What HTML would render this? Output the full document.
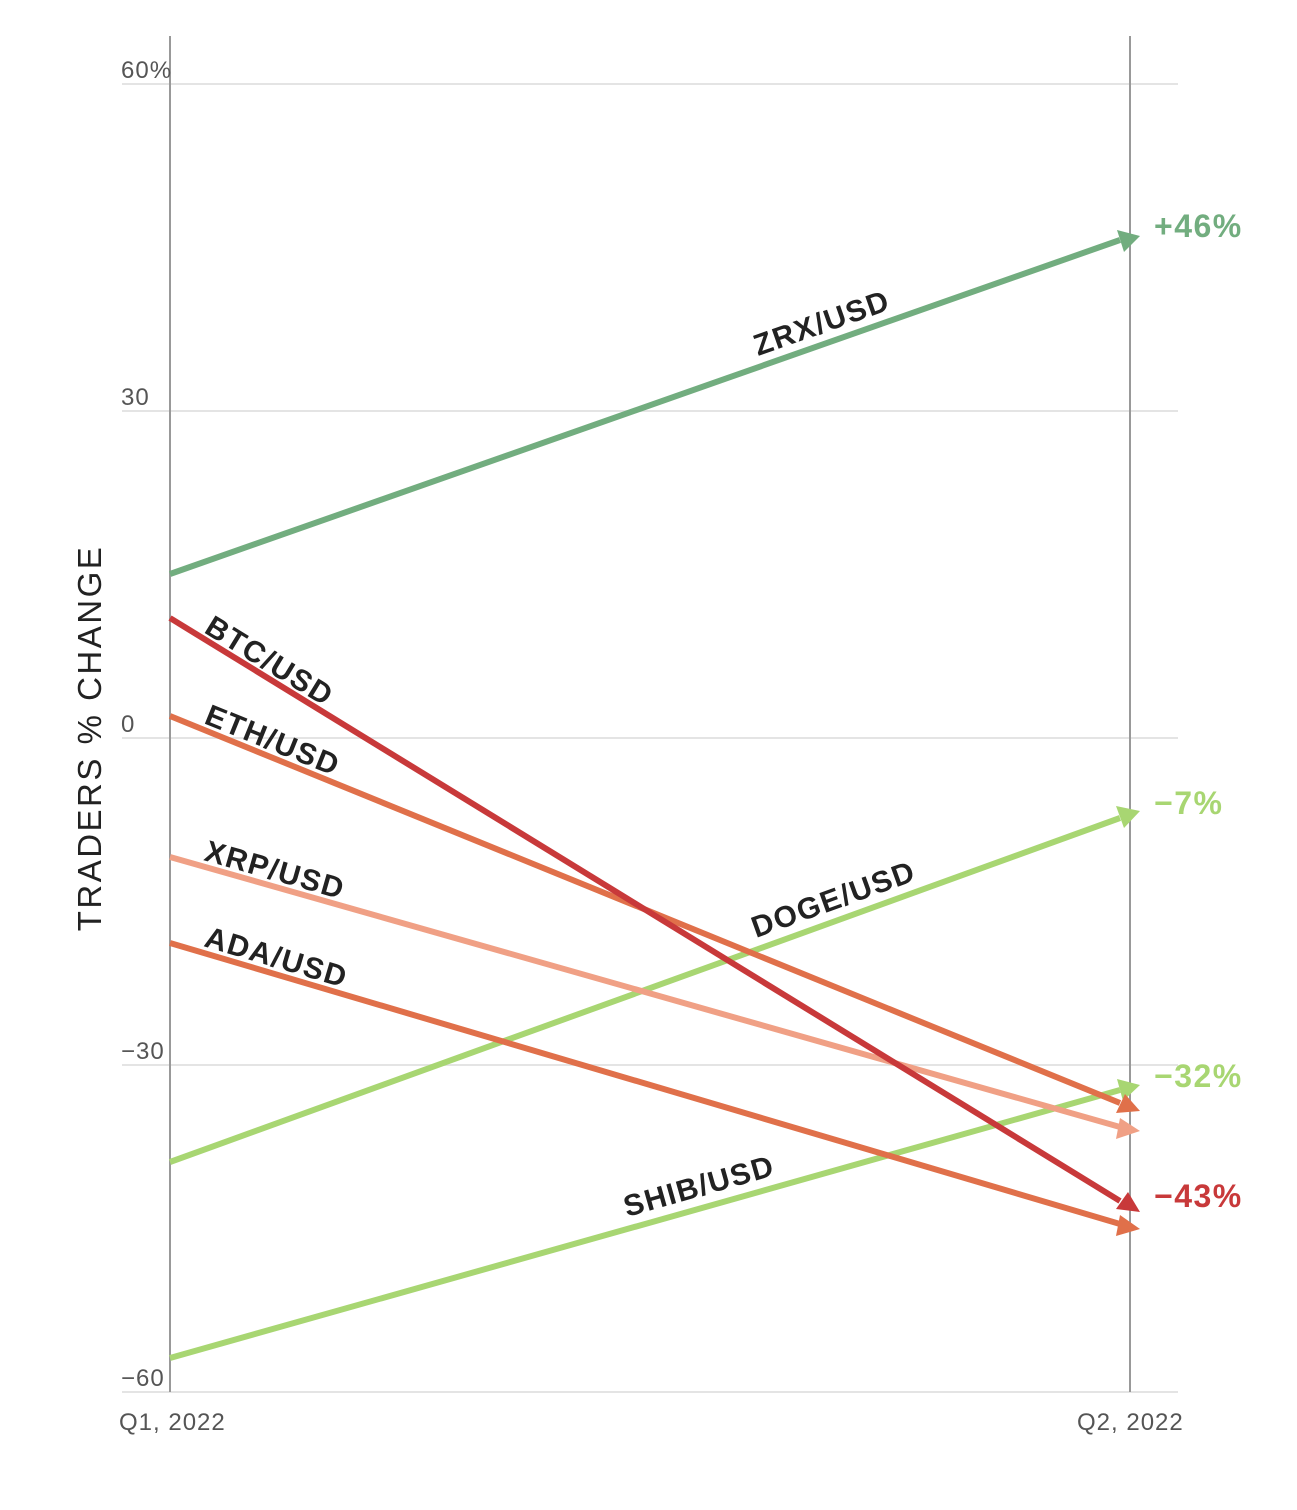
<!DOCTYPE html>
<html><head><meta charset="utf-8"><style>
html,body{margin:0;padding:0;background:#fff;}
svg{display:block;font-family:"Liberation Sans",sans-serif;}
.t{fill:#555;font-size:24px;letter-spacing:1px;}
.l{fill:#222;font-size:30px;font-weight:bold;letter-spacing:1.5px;}
.r{font-size:32px;font-weight:bold;letter-spacing:1.5px;}
</style></head><body>
<svg width="1297" height="1510" viewBox="0 0 1297 1510" xmlns="http://www.w3.org/2000/svg">
<g stroke="#e4e4e4" stroke-width="2">
<line x1="122" y1="84" x2="1178" y2="84"/>
<line x1="122" y1="411" x2="1178" y2="411"/>
<line x1="122" y1="738" x2="1178" y2="738"/>
<line x1="122" y1="1065" x2="1178" y2="1065"/>
<line x1="122" y1="1392" x2="1178" y2="1392"/>
</g>
<g stroke="#999" stroke-width="2">
<line x1="170" y1="36" x2="170" y2="1392"/>
<line x1="1130" y1="36" x2="1130" y2="1392"/>
</g>
<g class="t">
<text x="121" y="78">60%</text>
<text x="121" y="405">30</text>
<text x="121" y="732">0</text>
<text x="121" y="1059">−30</text>
<text x="121" y="1386">−60</text>
<text x="119" y="1430">Q1, 2022</text>
<text x="1077" y="1430">Q2, 2022</text>
</g>
<text transform="translate(101,738) rotate(-90)" text-anchor="middle" fill="#222" font-size="33" letter-spacing="2.5">TRADERS % CHANGE</text>
<g stroke-width="6" fill="none" stroke-linecap="butt">
<line x1="170" y1="1358" x2="1120" y2="1090" stroke="#a8d672"/>
<line x1="170" y1="1162" x2="1120" y2="818" stroke="#a8d672"/>
<line x1="170" y1="943" x2="1120" y2="1224" stroke="#e0704a"/>
<line x1="170" y1="857" x2="1120" y2="1127" stroke="#f0a085"/>
<line x1="170" y1="716" x2="1120" y2="1103" stroke="#e0704a"/>
<line x1="170" y1="618" x2="1120" y2="1201" stroke="#c8393a"/>
<line x1="170" y1="574" x2="1120" y2="240" stroke="#72ad7f"/>
</g>
<g>
<polygon points="1140,1085 1117,1079 1123,1101" fill="#a8d672"/>
<polygon points="1140,811 1116,806 1124,828" fill="#a8d672"/>
<polygon points="1140,1229 1120,1215 1116,1236" fill="#e0704a"/>
<polygon points="1140,1131 1120,1118 1116,1139" fill="#f0a085"/>
<polygon points="1140,1111 1125,1094 1116,1113" fill="#e0704a"/>
<polygon points="1140,1212 1128,1192 1116,1209" fill="#c8393a"/>
<polygon points="1140,236 1117,230 1124,252" fill="#72ad7f"/>
</g>
<g class="l">
<text transform="translate(758,356) rotate(-19.4)">ZRX/USD</text>
<text transform="translate(203,632) rotate(31.5)">BTC/USD</text>
<text transform="translate(203,723) rotate(22)">ETH/USD</text>
<text transform="translate(203,860) rotate(15.9)">XRP/USD</text>
<text transform="translate(203,946) rotate(16.5)">ADA/USD</text>
<text transform="translate(756,938) rotate(-19.9)">DOGE/USD</text>
<text transform="translate(627,1217) rotate(-15.8)">SHIB/USD</text>
</g>
<g class="r">
<text x="1154" y="237" fill="#72ad7f">+46%</text>
<text x="1154" y="814" fill="#a8d672">−7%</text>
<text x="1154" y="1087" fill="#a8d672">−32%</text>
<text x="1154" y="1207" fill="#c8393a">−43%</text>
</g>
</svg>
</body></html>
